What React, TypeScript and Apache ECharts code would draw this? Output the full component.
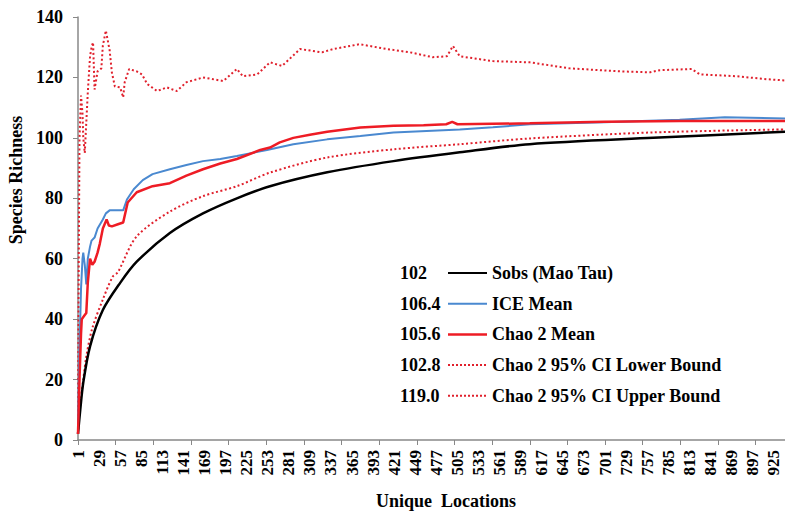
import React, { useEffect, useRef } from "react";
import * as echarts from "echarts";

const categories: string[] = Array.from({ length: 940 }, (_, i) => String(i + 1));

const sobsX = [1, 4, 8, 17, 34, 57, 79, 123, 167, 212, 256, 332, 420, 508, 601, 765, 940];
const sobsY = [2, 10, 19, 31, 43, 52, 59, 68.5, 75, 80, 84, 88.6, 92.3, 95.2, 97.9, 100, 102];

const iceX = [1, 3, 5, 7, 8, 10, 12, 14, 17, 19, 23, 27, 34, 38, 43, 52, 61, 66, 75, 87, 100, 123, 145, 167, 190, 212, 252, 287, 332, 376, 420, 464, 508, 552, 601, 700, 800, 860, 940];
const iceY = [5, 30, 50, 60, 62, 58, 51.5, 60, 64, 66, 67, 70, 73, 75, 76, 76, 76, 79.6, 83, 86, 88, 89.6, 91, 92.3, 93, 94, 96, 97.9, 99.5, 100.6, 101.8, 102.3, 102.8, 103.5, 104.5, 105.2, 106, 106.8, 106.4];

const chaoX = [1, 3, 5, 6, 9, 12, 14, 17, 20, 23, 27, 30, 34, 39, 42, 46, 55, 61, 67, 79, 100, 123, 145, 167, 190, 212, 243, 256, 269, 287, 309, 332, 376, 420, 460, 490, 498, 505, 601, 700, 800, 940];
const chaoY = [2, 20, 35, 40, 41, 42, 52, 60, 58, 59, 62, 65, 70, 73, 71, 70.7, 71.5, 72, 78.6, 82, 84, 85, 87.5, 89.6, 91.5, 93, 96, 96.8, 98.5, 100, 101, 102, 103.4, 104, 104.2, 104.5, 105.3, 104.5, 104.8, 105.3, 105.6, 105.6];

const lowX = [1, 4, 8, 12, 20, 34, 47, 54, 57, 79, 123, 167, 212, 256, 332, 420, 508, 601, 765, 940];
const lowY = [2, 12, 20, 27.6, 37, 46.5, 54, 55.5, 57, 67.4, 75.6, 80.7, 84, 88.5, 93.5, 96.2, 97.9, 99.8, 101.8, 102.8];

const upX = [1, 2, 3, 5, 7, 8, 10, 12, 14, 17, 19, 21, 23, 27, 32, 34, 38, 43, 46, 50, 57, 61, 63, 69, 79, 86, 93, 106, 119, 132, 145, 167, 194, 212, 220, 239, 256, 272, 296, 325, 340, 375, 411, 442, 472, 491, 499, 508, 552, 601, 654, 721, 761, 774, 816, 827, 876, 916, 940];
const upY = [5, 60, 100, 114, 108, 100, 95, 105, 115, 127, 130, 131.6, 116, 122, 123, 130.5, 135.5, 129, 121.6, 117, 116.7, 113.4, 118.4, 122.8, 122, 121, 117.8, 115.5, 116.7, 115.5, 118.4, 120, 118.8, 122.8, 120.4, 121, 125, 123.8, 129.4, 128.3, 129.4, 131, 129.4, 128.3, 126.7, 127, 130.4, 127, 125.4, 125, 123, 122, 121.7, 122.4, 122.8, 121, 120.4, 119.4, 119];

const seriesNames = ["Sobs (Mao Tau)", "ICE Mean", "Chao 2 Mean", "Chao 2 95% CI Lower Bound", "Chao 2 95% CI Upper Bound"];
const finalValues = ["102", "106.4", "105.6", "102.8", "119.0"];
const yTicks = { min: 0, max: 140, interval: 20 };

const FONT = '"Liberation Serif", "Times New Roman", serif';
const COLORS = { sobs: "#000000", ice: "#4a89d0", chao: "#ee1c25", ci: "#e0202c" };

const pairs = (xs: number[], ys: number[]) => xs.map((x, i) => [String(x), ys[i]]);

export default function App() {
  const ref = useRef<HTMLDivElement>(null);
  useEffect(() => {
    const chart = echarts.init(ref.current!, null, { renderer: "svg" });
    const legendStyles = [
      { stroke: COLORS.sobs, lineWidth: 2, lineDash: null as any },
      { stroke: COLORS.ice, lineWidth: 2, lineDash: null as any },
      { stroke: COLORS.chao, lineWidth: 2.5, lineDash: null as any },
      { stroke: COLORS.ci, lineWidth: 2, lineDash: [2, 2] },
      { stroke: COLORS.ci, lineWidth: 2, lineDash: [2, 2] },
    ];
    const legendGraphics: any[] = [];
    seriesNames.forEach((name, i) => {
      const cy = 273 + i * 30.7;
      legendGraphics.push({
        type: "text",
        x: 400,
        y: cy,
        style: { text: finalValues[i], fill: "#000", font: `bold 18px ${FONT}`, align: "left", verticalAlign: "middle" },
      });
      legendGraphics.push({
        type: "line",
        shape: { x1: 448, y1: cy, x2: 487, y2: cy },
        style: legendStyles[i],
      });
      legendGraphics.push({
        type: "text",
        x: 492,
        y: cy,
        style: { text: name, fill: "#000", font: `bold 18px ${FONT}`, align: "left", verticalAlign: "middle" },
      });
    });

    const option: any = {
      animation: false,
      backgroundColor: "#fff",
      grid: { left: 78, right: 0, top: 17, bottom: 74, containLabel: false },
      xAxis: {
        type: "category",
        data: categories,
        boundaryGap: false,
        axisLine: { lineStyle: { color: "#888", width: 1.5 } },
        axisTick: { show: true, interval: 49, length: 5, lineStyle: { color: "#888" } },
        axisLabel: {
          interval: 27,
          rotate: 90,
          margin: 10,
          color: "#000",
          fontFamily: FONT,
          fontWeight: "bold",
          fontSize: 17,
        },
        splitLine: { show: false },
      },
      yAxis: {
        type: "value",
        min: yTicks.min,
        max: yTicks.max,
        interval: yTicks.interval,
        axisLine: { show: true, lineStyle: { color: "#888", width: 1.5 } },
        axisTick: { show: true, length: 5, lineStyle: { color: "#888" } },
        axisLabel: { color: "#000", fontFamily: FONT, fontWeight: "bold", fontSize: 18, margin: 15 },
        splitLine: { show: false },
      },
      graphic: [
        {
          type: "text",
          x: 16,
          y: 180,
          rotation: Math.PI / 2,
          style: { text: "Species Richness", fill: "#000", font: `bold 18px ${FONT}`, align: "center", verticalAlign: "middle" },
        },
        {
          type: "text",
          x: 446,
          y: 501,
          style: { text: "Unique  Locations", fill: "#000", font: `bold 18px ${FONT}`, align: "center", verticalAlign: "middle" },
        },
        ...legendGraphics,
      ],
      series: [
        {
          name: seriesNames[3],
          type: "line",
          data: pairs(lowX, lowY),
          symbol: "none",
          smooth: 0.3,
          lineStyle: { color: COLORS.ci, width: 2, type: [2, 2.5] },
        },
        {
          name: seriesNames[4],
          type: "line",
          data: pairs(upX, upY),
          symbol: "none",
          lineStyle: { color: COLORS.ci, width: 2, type: [2, 2.5] },
        },
        {
          name: seriesNames[0],
          type: "line",
          data: pairs(sobsX, sobsY),
          symbol: "none",
          smooth: 0.3,
          lineStyle: { color: COLORS.sobs, width: 2.5 },
        },
        {
          name: seriesNames[1],
          type: "line",
          data: pairs(iceX, iceY),
          symbol: "none",
          lineStyle: { color: COLORS.ice, width: 2 },
        },
        {
          name: seriesNames[2],
          type: "line",
          data: pairs(chaoX, chaoY),
          symbol: "none",
          lineStyle: { color: COLORS.chao, width: 2.5 },
        },
      ],
    };
    chart.setOption(option);
    return () => chart.dispose();
  }, []);
  return (
    <div
      ref={ref}
      style={{ position: "fixed", left: 0, top: 0, width: 785, height: 514, background: "#fff" }}
    />
  );
}
